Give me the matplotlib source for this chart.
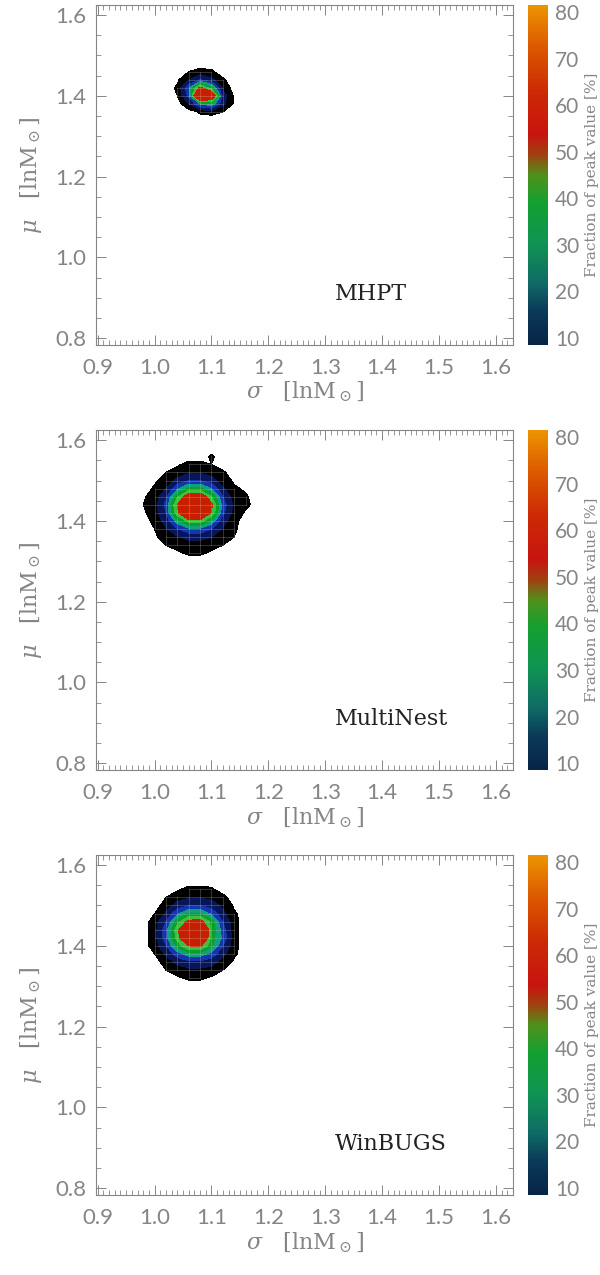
import numpy as np
import matplotlib
matplotlib.use("Agg")
import matplotlib.pyplot as plt
from matplotlib.colors import LinearSegmentedColormap, Normalize
from matplotlib.cm import ScalarMappable
from matplotlib.ticker import MultipleLocator

# ---- data: fraction of peak value [%] on the sigma/mu grid ----
panel_names = ["MHPT", "MultiNest", "WinBUGS"]

mhpt_sigma = [1.02, 1.04, 1.06, 1.08, 1.10, 1.12, 1.14, 1.16]
mhpt_mu = [1.50, 1.48, 1.46, 1.44, 1.42, 1.40, 1.38, 1.36, 1.34]
mhpt_frac = [
    [0, 0, 0, 0, 0, 0, 0, 0],
    [0, 0, 0, 0, 0, 0, 0, 0],
    [0, 0, 3, 5, 4, 0, 0, 0],
    [0, 2, 9, 18, 12, 4, 0, 0],
    [0, 4, 24, 55, 36, 8, 0, 0],
    [0, 3, 20, 90, 70, 14, 2, 0],
    [0, 0, 9, 26, 32, 12, 2, 0],
    [0, 0, 0, 4, 5, 3, 0, 0],
    [0, 0, 0, 0, 0, 0, 0, 0],
]

mnest_sigma = [0.98, 1.00, 1.02, 1.04, 1.06, 1.08, 1.10, 1.12, 1.14, 1.16, 1.18]
mnest_mu = [1.58, 1.56, 1.54, 1.52, 1.50, 1.48, 1.46, 1.44, 1.42, 1.40,
            1.38, 1.36, 1.34, 1.32, 1.30]
mnest_frac = [
    [0, 0, 0, 0, 0, 0, 0, 0, 0, 0, 0],
    [0, 0, 0, 0, 0, 0, 4, 0, 0, 0, 0],
    [0, 0, 0, 2, 5, 5, 3, 0, 0, 0, 0],
    [0, 0, 3, 6, 9, 9, 7, 4, 0, 0, 0],
    [0, 2, 6, 12, 18, 18, 13, 6, 2, 0, 0],
    [0, 4, 10, 24, 36, 36, 26, 11, 4, 2, 0],
    [2, 6, 16, 40, 62, 64, 42, 18, 6, 4, 0],
    [3, 7, 20, 52, 90, 92, 55, 22, 8, 5, 0],
    [2, 6, 18, 48, 85, 86, 50, 20, 7, 2, 0],
    [0, 5, 13, 30, 45, 46, 32, 13, 5, 0, 0],
    [0, 3, 9, 17, 24, 24, 18, 9, 4, 0, 0],
    [0, 2, 6, 9, 12, 12, 10, 6, 3, 0, 0],
    [0, 0, 3, 5, 7, 7, 5, 3, 0, 0, 0],
    [0, 0, 0, 2, 4, 4, 2, 0, 0, 0, 0],
    [0, 0, 0, 0, 0, 0, 0, 0, 0, 0, 0],
]

wbugs_sigma = [0.98, 1.00, 1.02, 1.04, 1.06, 1.08, 1.10, 1.12, 1.14, 1.16]
wbugs_mu = [1.56, 1.54, 1.52, 1.50, 1.48, 1.46, 1.44, 1.42, 1.40, 1.38,
            1.36, 1.34, 1.32, 1.30]
wbugs_frac = [
    [0, 0, 0, 0, 0, 0, 0, 0, 0, 0],
    [0, 0, 0, 2, 5, 5, 4, 0, 0, 0],
    [0, 0, 3, 7, 9, 9, 8, 5, 0, 0],
    [0, 0, 6, 13, 18, 18, 14, 8, 2, 0],
    [0, 3, 11, 24, 34, 34, 24, 12, 4, 0],
    [0, 6, 18, 38, 56, 58, 38, 18, 5, 0],
    [0, 7, 22, 48, 82, 86, 40, 22, 5, 0],
    [0, 7, 22, 46, 80, 82, 38, 24, 5, 0],
    [0, 6, 17, 36, 52, 54, 36, 18, 5, 0],
    [0, 3, 11, 22, 30, 30, 23, 12, 4, 0],
    [0, 0, 6, 12, 16, 16, 13, 7, 2, 0],
    [0, 0, 3, 6, 8, 8, 7, 3, 0, 0],
    [0, 0, 0, 2, 4, 4, 2, 0, 0, 0],
    [0, 0, 0, 0, 0, 0, 0, 0, 0, 0],
]

levels = [3, 10, 18, 26, 34, 42, 52, 101]
band_colors = ['#000000', '#07165a', '#1435b0', '#10a07c', '#08a028', '#3cbf3c', '#c81e00']

cbar_ticks = [10, 20, 30, 40, 50, 60, 70, 80]
cbar_range = (8.5, 81.5)

panels = [
    (mhpt_sigma, mhpt_mu, mhpt_frac),
    (mnest_sigma, mnest_mu, mnest_frac),
    (wbugs_sigma, wbugs_mu, wbugs_frac),
]

# colour table of the colour bar
cmap = LinearSegmentedColormap.from_list("peak", [
    (0.00, '#082446'), (0.10, '#0a3a58'), (0.18, '#0f6a66'), (0.30, '#109452'),
    (0.42, '#14a030'), (0.50, '#50901a'), (0.56, '#a04010'), (0.62, '#c81410'),
    (0.75, '#cc2a04'), (0.88, '#dc5a00'), (1.00, '#ec9400')])

gray = '#858585'
plt.rcParams['font.family'] = ['Lato', 'DejaVu Sans']
plt.rcParams['mathtext.fontset'] = 'dejavuserif'

fig = plt.figure(figsize=(6, 12.75), dpi=100)
bottoms = [0.7294, 0.396, 0.0627]
height = 0.2667

for (sx, my, frac), name, b in zip(panels, panel_names, bottoms):
    ax = fig.add_axes([0.16, b, 0.695, height])
    X, Y = np.meshgrid(sx, my)
    Z = np.array(frac, dtype=float)
    ax.contourf(X, Y, Z, levels=levels, colors=band_colors)
    # faint mesh lines inside the filled region
    for j, x in enumerate(sx):
        rows = [i for i in range(len(my)) if Z[i, j] >= levels[0]]
        if rows:
            ax.plot([x, x], [my[max(rows)], my[min(rows)]], color='#d0d0d0', lw=0.5, alpha=0.35)
    for i, y in enumerate(my):
        cols = [j for j in range(len(sx)) if Z[i, j] >= levels[0]]
        if cols:
            ax.plot([sx[min(cols)], sx[max(cols)]], [y, y], color='#d0d0d0', lw=0.5, alpha=0.35)

    ax.set_xlim(0.897, 1.63)
    ax.set_ylim(0.783, 1.625)
    ax.xaxis.set_major_locator(MultipleLocator(0.1))
    ax.xaxis.set_minor_locator(MultipleLocator(0.01))
    ax.yaxis.set_major_locator(MultipleLocator(0.2))
    ax.yaxis.set_minor_locator(MultipleLocator(0.05))
    ax.xaxis.set_major_formatter(plt.FormatStrFormatter('%.1f'))
    ax.yaxis.set_major_formatter(plt.FormatStrFormatter('%.1f'))
    ax.tick_params(which='both', direction='in', top=True, right=True, color=gray,
                   labelcolor=gray, labelsize=16)
    ax.tick_params(which='major', length=7, width=0.7)
    ax.tick_params(which='minor', length=3.5, width=0.6)
    ax.tick_params(axis='x', pad=9)
    ax.tick_params(axis='y', pad=7)
    for sp in ax.spines.values():
        sp.set_color(gray)
        sp.set_linewidth(0.8)
    ax.set_xlabel(r'$\sigma$   [lnM$_\odot$]', color=gray, fontsize=16, family='DejaVu Serif', labelpad=2)
    ax.set_ylabel(r'$\mu$   [lnM$_\odot$]', color=gray, fontsize=16, family='DejaVu Serif', labelpad=8)
    ax.text(0.573, 0.15, name, transform=ax.transAxes, ha='left', va='center',
            fontsize=16, family='DejaVu Serif', color='#222222')

    cax = fig.add_axes([0.88, b, 0.0333, height])
    sm = ScalarMappable(norm=Normalize(*cbar_range), cmap=cmap)
    cb = fig.colorbar(sm, cax=cax, ticks=cbar_ticks)
    cb.outline.set_visible(False)
    cax.tick_params(length=0, labelcolor=gray, labelsize=15, pad=5)
    cb.set_label('Fraction of peak value [%]', color=gray, fontsize=11,
                 family='DejaVu Serif', labelpad=4)

fig.savefig('out.png', dpi=100)
plt.close(fig)
